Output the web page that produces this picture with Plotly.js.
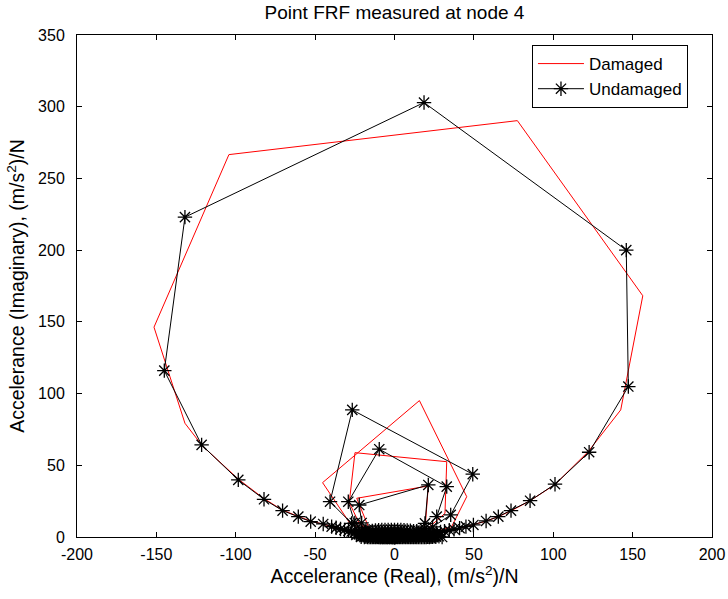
<!DOCTYPE html>
<html>
<head>
<meta charset="utf-8">
<script src="https://cdn.plot.ly/plotly-3.0.1.min.js"></script>
<style>html,body{margin:0;padding:0;background:#fff;}#chart{width:728px;height:599px;}</style>
</head>
<body>
<div id="chart"></div>
<script>
// Undamaged FRF (real, imaginary) in frequency order
var undamagedReal = [
  0.5, -1, -2, -3, -4, -5, -6, -7, -8, -9, -10, -11.5, -13, -14.5, -16, -17.5, -19, -21, -23, -25, -27, -29, -31.5, -34, -36.8, -39.6,
  -44.9, -52.8, -60.6, -70.5, -82.2, -98.4, -121.5, -145, -132, 18.6, 146, 147.3, 122.6, 101.1, 85.4, 73.4, 65.4, 57.7, 49.7,
  45, 41, 37.5, 34.5, 31.5, 29, 26.5, 24, 22, 20, 18, 16, 14, 12, 10, 8, 6, 4, 2, 0,
  -3, -7, -12, -18, -27, -40.6, -26.6, 49.3, 35.4, 24, 15, 8, 3, 0,
  -3, -8, -14, -25, -29.1, -9.6, 32.9, 26.6, 19, 12, 6, 1,
  -4, -10, -20.7, -22.2, 21.3, 19.2, 14, 8, 3, 0,
  -1.5, -3, -4.5, -6, -7.5, -9, -10.5, -12, -13.5, -15, -16.5, -18, -19.5, -21, -22.5,
  -21, -19, -17, -15, -13, -11, -9, -7, -5, -3, -1, 1, 3, 5, 7, 9, 11, 13, 15, 17, 19, 21, 23, 25, 27,
  25, 23, 21, 19, 17, 15, 13, 11, 9, 7, 5, 3, 1, -1, -3, -5, -7, -9, -11, -13, -15, -17, -19,
  -24, -22, -20, -18, -16, -14, -12, -10, -8, -6, -4, -2, 0, 2, 4, 6, 8, 10, 12, 14, 16, 18, 20, 22, 24, 26, 28, 30,
  26, 24, 22, 20, 18, 16, 14, 12, 10, 8, 6, 4, 2, 0, -2, -4, -6, -8, -10, -12, -14, -16, -18
];
var undamagedImag = [
  0, 0, 0.1, 0.1, 0.2, 0.3, 0.3, 0.4, 0.5, 0.6, 0.7, 0.9, 1.1, 1.3, 1.5, 1.8, 2.1, 2.4, 2.8, 3.3, 3.8, 4.3, 4.9, 5.6, 6.4, 7.2,
  9.1, 10.7, 14.2, 18.4, 26.3, 39.8, 64.2, 116, 223, 302.9, 200, 104.9, 59.1, 36.8, 25.3, 18.4, 14.2, 11.2, 8.4,
  7.2, 6.2, 5.4, 4.7, 4.0, 3.5, 3.0, 2.6, 2.2, 1.9, 1.6, 1.3, 1.0, 0.8, 0.6, 0.4, 0.3, 0.2, 0.1, 0,
  0.2, 0.8, 2, 4.5, 9.5, 24.6, 88.6, 43.8, 15.4, 7, 3, 1, 0.3, 0,
  0.3, 1.2, 3.5, 9.8, 24.6, 61.2, 35.1, 14.2, 6, 2.5, 0.8, 0.1,
  0.3, 1.8, 9.8, 22.3, 36.3, 9.5, 4, 1.5, 0.3, 0,
  0, 0, 0, 0, 0, 0, 0.1, 0.2, 0.4, 0.6, 0.8, 1.0, 1.3, 1.6, 2.0,
  0.1, 0, 0, 0, 0, 0, 0, 0, 0, 0, 0, 0, 0, 0, 0, 0, 0, 0, 0, 0, 0, 0.1, 0.5, 1.0, 1.5,
  0.5, 0.2, 0.1, 0.1, 0.1, 0.1, 0.1, 0.1, 0.1, 0.1, 0.1, 0.1, 0.1, 0.1, 0.1, 0.1, 0.1, 0.1, 0.1, 0.2, 0.4, 0.8, 1.2,
  1.5, 2.5, 3.0, 3.5, 4.0, 4.3, 4.6, 4.8, 5.0, 5.0, 5.0, 5.0, 5.0, 5.0, 5.0, 4.8, 4.6, 4.4, 4.0, 3.6, 3.2, 2.8, 2.4, 2.0, 1.5, 1.0, 0.5, 0,
  0.2, 0.1, 0, 0, 0, 0, 0, 0, 0, 0, 0, 0, 0, 0, 0, 0, 0, 0, 0, 0, 0, 0, 0.1
];
// Damaged FRF (real, imaginary) in frequency order
var damagedReal = [
  0.5, -1.5, -3, -5, -7, -9, -11, -13, -15.5, -18, -21, -24, -27, -30, -33.5, -37, -41, -46, -53, -61, -71, -82.5, -98, -121, -132,
  -151.5, -104.3, 77.4, 156.4, 142.5, 122, 101, 85, 73, 65, 57.5, 50, 45, 41, 37.5, 34, 31, 28, 25, 22, 19, 16, 13, 10, 7, 4, 1,
  -4, -10, -18, -28, -45.3, 15.7, 45.5, 36, 24, 12, 3,
  -4, -10, -22, -28.5, -24.9, 32.9, 31.8, 21, 11, 3,
  -3, -8, -16, -23.8, 21.3, 19.5, 12, 5, 0
];
var damagedImag = [
  0, 0, 0.1, 0.2, 0.4, 0.6, 0.8, 1.1, 1.5, 2, 2.5, 3.2, 3.9, 4.7, 5.6, 6.5, 7.8, 9.4, 11.2, 14.5, 19, 27, 40, 63.5, 79.3,
  146.3, 266.6, 290.3, 168.2, 88.6, 59.5, 36.5, 25, 18, 14, 11, 8.5, 7.2, 6.2, 5.3, 4.6, 3.9, 3.3, 2.7, 2.2, 1.7, 1.3, 0.9, 0.6, 0.3, 0.1, 0,
  0.3, 1.5, 4.5, 9.5, 37.9, 95.1, 28.1, 7.2, 3, 1, 0.1,
  0.3, 1.6, 9, 24, 58.8, 52.5, 16.5, 6, 1.8, 0.2,
  0.2, 1.3, 6, 27, 35.6, 9.5, 3, 0.6, 0
];
var xTicks = [-200, -150, -100, -50, 0, 50, 100, 150, 200];
var yTicks = [0, 50, 100, 150, 200, 250, 300, 350];
var seriesNames = ['Damaged', 'Undamaged'];
var titleText = 'Point FRF measured at node 4';
var xTitle = 'Accelerance (Real), (m/s<sup>2</sup>)/N';
var yTitle = 'Accelerance (Imaginary), (m/s<sup>2</sup>)/N';

var FONT = 'Liberation Sans, Arial, Helvetica, sans-serif';

var traces = [
  {
    x: damagedReal, y: damagedImag, name: seriesNames[0], type: 'scatter', mode: 'lines',
    line: {color: '#ff0000', width: 1}
  },
  {
    x: undamagedReal, y: undamagedImag, name: seriesNames[1], type: 'scatter', mode: 'lines+markers',
    line: {color: '#000000', width: 1},
    marker: {symbol: 'asterisk-open', size: 12, color: '#000000', line: {color: '#000000', width: 1.3}},
    cliponaxis: false
  }
];

var axisCommon = {
  ticks: 'inside', ticklen: 5, tickwidth: 1, tickcolor: '#000',
  showline: true, linecolor: '#000', linewidth: 1, mirror: 'ticks',
  showgrid: false, zeroline: false,
  tickfont: {family: FONT, size: 16, color: '#000'}
};

var layout = {
  width: 728, height: 599,
  margin: {l: 77, r: 16, t: 35, b: 62, pad: 0},
  paper_bgcolor: '#fff', plot_bgcolor: '#fff',
  font: {family: FONT, color: '#000'},
  title: {text: titleText, font: {family: FONT, size: 19, color: '#000'}, x: 0.5, xref: 'paper', y: 0.979, yref: 'container', yanchor: 'middle'},
  xaxis: Object.assign({}, axisCommon, {
    range: [-200, 200], tickvals: xTicks, ticktext: xTicks.map(String),
    ticklabelstandoff: 3,
    title: {text: xTitle, font: {family: FONT, size: 19.5, color: '#000'}, standoff: 5}
  }),
  yaxis: Object.assign({}, axisCommon, {
    range: [0, 350], tickvals: yTicks, ticktext: yTicks.map(String),
    ticklabelstandoff: 8,
    title: {text: yTitle, font: {family: FONT, size: 19.5, color: '#000'}, standoff: 8}
  }),
  showlegend: true,
  legend: {
    x: 0.7165, y: 0.98, xanchor: 'left', yanchor: 'top',
    bgcolor: '#fff', bordercolor: '#000', borderwidth: 1,
    itemwidth: 46, tracegroupgap: 0,
    font: {family: FONT, size: 17, color: '#000'}
  }
};

Plotly.newPlot('chart', traces, layout, {displayModeBar: false, staticPlot: true});
</script>
</body>
</html>
